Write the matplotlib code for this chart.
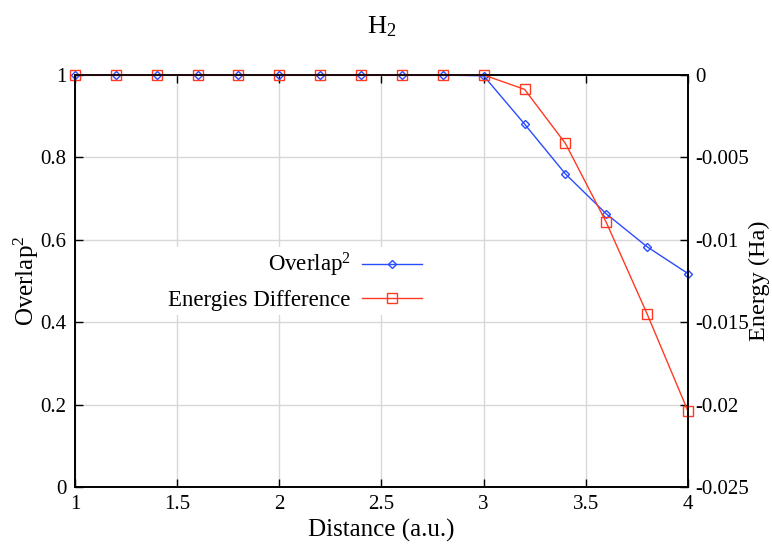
import matplotlib
matplotlib.use("Agg")
import matplotlib.pyplot as plt

# data
distance = [1.0, 1.2, 1.4, 1.6, 1.8, 2.0, 2.2, 2.4, 2.6, 2.8, 3.0, 3.2, 3.4, 3.6, 3.8, 4.0]
overlap2 = [1, 1, 1, 1, 1, 1, 1, 1, 1, 1, 0.998, 0.881, 0.760, 0.663, 0.583, 0.518]
energy_diff = [0, 0, 0, 0, 0, 0, 0, 0, 0, 0, 0, -0.00087, -0.00415, -0.00894, -0.0145, -0.0204]

x_ticks = [1, 1.5, 2, 2.5, 3, 3.5, 4]
y_ticks = [0, 0.2, 0.4, 0.6, 0.8, 1]
e_ticks = [-0.025, -0.02, -0.015, -0.01, -0.005, 0]

plt.rcParams['font.family'] = ['Liberation Serif', 'DejaVu Serif']
plt.rcParams['mathtext.fontset'] = 'custom'
plt.rcParams['mathtext.rm'] = 'Liberation Serif'
plt.rcParams['mathtext.it'] = 'Liberation Serif'
plt.rcParams['axes.unicode_minus'] = False

blue = '#2a4cff'
red = '#ff3a22'

fig = plt.figure(figsize=(7.72, 5.46), dpi=100)
ax = fig.add_axes([75 / 772, 1 - 487 / 546, 613 / 772, 412 / 546])
ax2 = ax.twinx()

l1, = ax.plot(distance, overlap2, color=blue, lw=1.0, marker='D', ms=4.5,
              mfc='none', mew=1.0, label='Overlap$^2$', clip_on=False, zorder=4)
l2, = ax2.plot(distance, energy_diff, color=red, lw=1.0, marker='s', ms=7,
               mfc='none', mew=1.0, label='Energies Difference', clip_on=False)

ax.set_xlim(1, 4)
ax.set_ylim(0, 1)
ax2.set_ylim(-0.025, 0)

ax.set_xticks(x_ticks)
ax.set_xticklabels(['%g' % v for v in x_ticks])
ax.set_yticks(y_ticks)
ax.set_yticklabels(['%g' % v for v in y_ticks])
ax2.set_yticks(e_ticks)
ax2.set_yticklabels(['%g' % v for v in e_ticks])

ax.grid(True, color='#d8d8d8', lw=1.0)
ax.set_axisbelow(True)

ax.tick_params(direction='in', length=6, width=1, labelsize=15, top=True,
               pad=6)
ax2.tick_params(direction='in', length=6, width=1, labelsize=15, pad=5)
for a in (ax, ax2):
    for s in a.spines.values():
        s.set_linewidth(1.2)

ax.set_xlabel('Distance (a.u.)', fontsize=18, labelpad=3)
ax.set_ylabel('Overlap$^2$', fontsize=18, labelpad=0)
ax2.set_ylabel('Energy (Ha)', fontsize=17.5, labelpad=0)
ax.set_title('H$_2$', fontsize=19, pad=30)

leg = ax2.legend(handles=[l1, l2], loc='center right',
                 bbox_to_anchor=(0.573, 0.5), markerfirst=False,
                 fontsize=16.5, frameon=True, fancybox=False, framealpha=1,
                 edgecolor='none', handlelength=2.6, handletextpad=0.5,
                 borderaxespad=0, borderpad=0.2, labelspacing=0.45)

fig.savefig('out.png', dpi=100)
